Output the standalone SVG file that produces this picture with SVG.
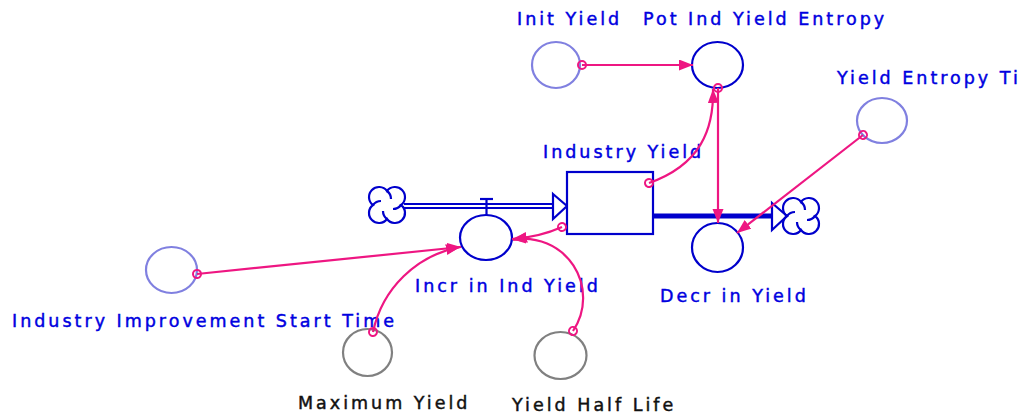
<svg xmlns="http://www.w3.org/2000/svg" width="1021" height="414" viewBox="0 0 1021 414">
<style>
text{font-family:"DejaVu Sans","Verdana",sans-serif;font-size:17.5px;letter-spacing:3px;fill:#0000e0;stroke:#0000e0;stroke-width:0.45}
text.dark{fill:#111;stroke:#111}
.aux{fill:#fff;stroke:#0000cc;stroke-width:2.2}
.light{fill:#fff;stroke:#8080e0;stroke-width:2.2}
.grey{fill:#fff;stroke:#808080;stroke-width:2.2}
.blue{stroke:#0000cc;stroke-width:2.2;fill:none}
.link{fill:none;stroke:#ee1682;stroke-width:2.2;marker-start:url(#tail);marker-end:url(#head)}
</style>
<defs>
<marker id="head" markerUnits="userSpaceOnUse" markerWidth="15" markerHeight="13" refX="14" refY="5.5" orient="auto">
<path d="M0,0 L14,5.5 L0,11 Z" fill="#ee1682"/>
</marker>
<marker id="tail" markerUnits="userSpaceOnUse" markerWidth="12" markerHeight="12" refX="6" refY="6" orient="auto">
<circle cx="6" cy="6" r="4" fill="none" stroke="#ee1682" stroke-width="2"/>
</marker>
<g id="cloud">
<path class="blue" fill="#fff" d="M0,-14 A10,10 0 1 1 14,0 A10,10 0 1 1 0,14 A10,10 0 1 1 -14,0 A10,10 0 1 1 0,-14 Z"/>
<path class="blue" d="M0,-14 A10,10 0 0 1 4,-6"/>
<path class="blue" d="M14,0 A10,10 0 0 1 6,4"/>
<path class="blue" d="M0,14 A10,10 0 0 1 -4,6"/>
<path class="blue" d="M-14,0 A10,10 0 0 1 -6,-4"/>
</g>
</defs>
<rect width="1021" height="414" fill="#fff"/>

<g id="flows">
<use href="#cloud" x="387" y="205"/>
<line class="blue" x1="404" y1="204" x2="554" y2="204"/>
<line class="blue" x1="404" y1="208" x2="554" y2="208"/>
<polygon class="blue" fill="#fff" points="553,194 567,206 553,219"/>
<line class="blue" x1="480" y1="199" x2="493" y2="199"/>
<line class="blue" x1="486.5" y1="199" x2="486.5" y2="215"/>
<line stroke="#0000cc" stroke-width="5" x1="653" y1="216" x2="773" y2="216"/>
<polygon class="blue" fill="#fff" points="772,203 787,216 772,230"/>
<use href="#cloud" x="801" y="216"/>
</g>

<g id="industry-yield">
<rect class="aux" x="567" y="172" width="86" height="62"/>
<text x="543" y="158">Industry Yield</text>
</g>
<g id="incr-in-ind-yield">
<ellipse class="aux" cx="486" cy="237.5" rx="26" ry="22.5"/>
<text x="415" y="292">Incr in Ind Yield</text>
</g>
<g id="decr-in-yield">
<ellipse class="aux" cx="717.5" cy="247.5" rx="25.5" ry="24.5"/>
<text x="660" y="302">Decr in Yield</text>
</g>
<g id="init-yield">
<ellipse class="light" cx="556" cy="65" rx="24" ry="23"/>
<text x="517" y="25">Init Yield</text>
</g>
<g id="pot-ind-yield-entropy">
<ellipse class="aux" cx="717.5" cy="65" rx="25.5" ry="23"/>
<text x="643" y="25">Pot Ind Yield Entropy</text>
</g>
<g id="yield-entropy-time">
<ellipse class="light" cx="882" cy="120.5" rx="25" ry="22.5"/>
<text x="837" y="84">Yield Entropy Ti</text>
</g>
<g id="industry-improvement-start-time">
<ellipse class="light" cx="171.5" cy="270" rx="25.5" ry="23"/>
<text x="12" y="327">Industry Improvement Start Time</text>
</g>
<g id="maximum-yield">
<ellipse class="grey" cx="367.5" cy="352.5" rx="24.5" ry="23.5"/>
<text class="dark" x="298" y="409">Maximum Yield</text>
</g>
<g id="yield-half-life">
<ellipse class="grey" cx="560.5" cy="355.5" rx="26" ry="23.5"/>
<text class="dark" x="512" y="411">Yield Half Life</text>
</g>

<g id="connectors">
<path class="link" d="M582,65 L693,65"/>
<path class="link" d="M649,183 C700,165 714,130 713,89"/>
<path class="link" d="M718,88 L718,223"/>
<path class="link" d="M863,135 L737,233"/>
<path class="link" d="M197,274 L461,247"/>
<path class="link" d="M373,332 A109.5,109.5 0 0 1 460,247"/>
<path class="link" d="M573,331 A59,59 0 0 0 513,240"/>
<path class="link" d="M562,227 Q540,237 512,239"/>
</g>
</svg>
